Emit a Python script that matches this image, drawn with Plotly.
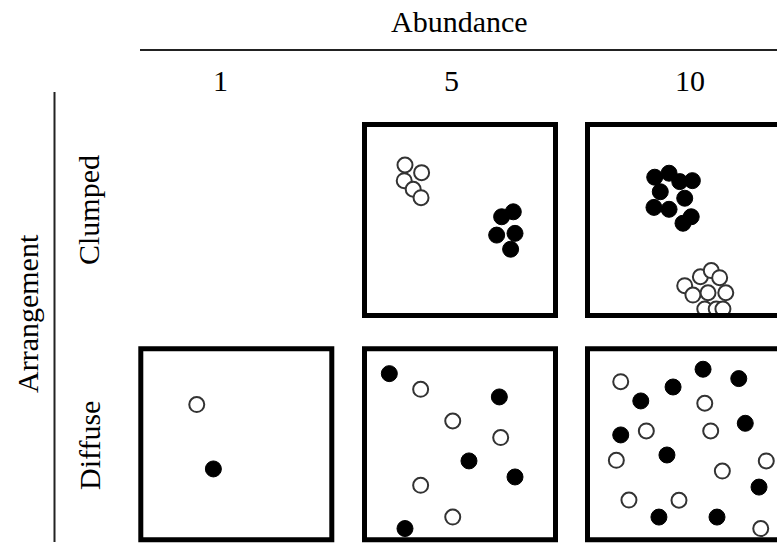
import plotly.graph_objects as go

# ---------------- data (panel units 0..100, y up) ----------------
column_labels = ["1", "5", "10"]
row_labels = ["Clumped", "Diffuse"]

clumped5_open_x = [21.2, 29.9, 20.8, 25.5, 29.6]
clumped5_open_y = [78.8, 74.8, 70.6, 66.1, 61.7]
clumped5_fill_x = [71.8, 77.9, 69.2, 78.8, 76.5]
clumped5_fill_y = [51.7, 54.3, 42.1, 43.0, 34.7]

clumped10_fill_x = [35.2, 42.7, 48.3, 54.9, 38.1, 50.9, 34.8, 42.7, 50.0, 54.3]
clumped10_fill_y = [72.4, 74.5, 70.1, 70.6, 64.8, 61.4, 56.6, 55.6, 48.3, 51.7]
clumped10_open_x = [50.9, 59.1, 64.8, 69.2, 55.2, 63.1, 72.4, 61.4, 67.4, 70.9]
clumped10_open_y = [15.6, 20.3, 23.5, 19.8, 10.7, 11.9, 11.9, 3.4, 3.4, 3.4]

diffuse1_open_x = [29.3]
diffuse1_open_y = [70.8]
diffuse1_fill_x = [38.0]
diffuse1_fill_y = [37.1]

diffuse5_fill_x = [13.0, 70.6, 54.7, 78.8, 21.2]
diffuse5_fill_y = [87.0, 74.8, 41.3, 32.9, 5.9]
diffuse5_open_x = [29.4, 46.2, 71.3, 29.4, 46.2]
diffuse5_open_y = [78.8, 62.2, 53.5, 28.5, 11.9]

diffuse10_fill_x = [60.5, 79.2, 44.8, 27.9, 82.6, 17.4, 41.6, 89.8, 37.4, 67.8]
diffuse10_fill_y = [89.3, 84.4, 80.0, 72.7, 61.0, 54.9, 44.4, 27.6, 11.9, 11.9]
diffuse10_open_x = [17.4, 61.4, 30.8, 64.5, 15.1, 93.6, 70.6, 21.7, 47.9, 90.7]
diffuse10_open_y = [82.8, 71.5, 57.0, 57.0, 41.6, 41.3, 36.0, 20.8, 20.7, 5.9]

# ---------------- layout geometry (pixels) ----------------
W, H = 777, 544
PANEL = 191.0
col_left = [140.8, 364.5, 587.5]
row_top = [124.5, 348.8]
FONT = "Liberation Serif, Times New Roman, serif"
FS = 30

panels = [
    # (row, col, open_x, open_y, fill_x, fill_y)
    (0, 1, clumped5_open_x, clumped5_open_y, clumped5_fill_x, clumped5_fill_y),
    (0, 2, clumped10_open_x, clumped10_open_y, clumped10_fill_x, clumped10_fill_y),
    (1, 0, diffuse1_open_x, diffuse1_open_y, diffuse1_fill_x, diffuse1_fill_y),
    (1, 1, diffuse5_open_x, diffuse5_open_y, diffuse5_fill_x, diffuse5_fill_y),
    (1, 2, diffuse10_open_x, diffuse10_open_y, diffuse10_fill_x, diffuse10_fill_y),
]

fig = go.Figure()
shapes = []
layout_axes = {}

for i, (r, c, ox, oy, fx, fy) in enumerate(panels, start=1):
    sfx = "" if i == 1 else str(i)
    xa, ya = "x" + sfx, "y" + sfx
    left = col_left[c]
    right = left + PANEL
    x1 = min(right, W)
    xmax = 100.0 * (x1 - left) / PANEL
    top = row_top[r]
    bottom = top + PANEL
    layout_axes["xaxis" + sfx] = dict(
        domain=[left / W, x1 / W], range=[0, xmax], anchor=ya,
        showgrid=False, zeroline=False, showticklabels=False, ticks="",
        showline=False, fixedrange=True)
    layout_axes["yaxis" + sfx] = dict(
        domain=[1 - bottom / H, 1 - top / H], range=[0, 100], anchor=xa,
        showgrid=False, zeroline=False, showticklabels=False, ticks="",
        showline=False, fixedrange=True)

    fig.add_trace(go.Scatter(
        x=ox, y=oy, xaxis=xa, yaxis=ya, mode="markers",
        marker=dict(size=15, color="white", line=dict(color="#333333", width=2)),
        showlegend=False, hoverinfo="skip"))
    fig.add_trace(go.Scatter(
        x=fx, y=fy, xaxis=xa, yaxis=ya, mode="markers",
        marker=dict(size=16, color="black", line=dict(color="black", width=1)),
        showlegend=False, hoverinfo="skip"))

    bl = dict(color="black", width=5)
    if right <= W:
        shapes.append(dict(type="rect", xref=xa + " domain", yref=ya + " domain",
                           x0=0, x1=1, y0=0, y1=1, line=bl, layer="above"))
    else:
        shapes.append(dict(type="path", xref=xa + " domain", yref=ya + " domain",
                           path="M 1.02,1 L 0,1 L 0,0 L 1.02,0", line=bl, layer="above"))

# header lines
shapes.append(dict(type="line", xref="paper", yref="paper",
                   x0=140 / W, x1=1, y0=1 - 50 / H, y1=1 - 50 / H,
                   line=dict(color="#222222", width=2)))
shapes.append(dict(type="line", xref="paper", yref="paper",
                   x0=54.5 / W, x1=54.5 / W, y0=1 - 92 / H, y1=1 - 542 / H,
                   line=dict(color="#222222", width=2)))

annotations = []
def ann(text, px, py, angle=0):
    annotations.append(dict(text=text, xref="paper", yref="paper",
                            x=px / W, y=1 - py / H, showarrow=False,
                            xanchor="center", yanchor="middle", textangle=angle,
                            font=dict(family=FONT, size=FS, color="black")))

ann("Abundance", 459, 22)
col_label_x = [220, 451, 690]
for lab, px in zip(column_labels, col_label_x):
    ann(lab, px, 80)
ann("Arrangement", 27, 314, -90)
row_label_y = [210, 446]
for lab, py in zip(row_labels, row_label_y):
    ann(lab, 89, py, -90)

fig.update_layout(
    width=W, height=H, margin=dict(l=0, r=0, t=0, b=0),
    paper_bgcolor="white", plot_bgcolor="white",
    shapes=shapes, annotations=annotations, **layout_axes)

fig.write_html(
    "out.html",
    config={"displayModeBar": False, "staticPlot": True},
    post_script="document.body.style.margin='0';document.body.style.overflow='hidden';",
)
